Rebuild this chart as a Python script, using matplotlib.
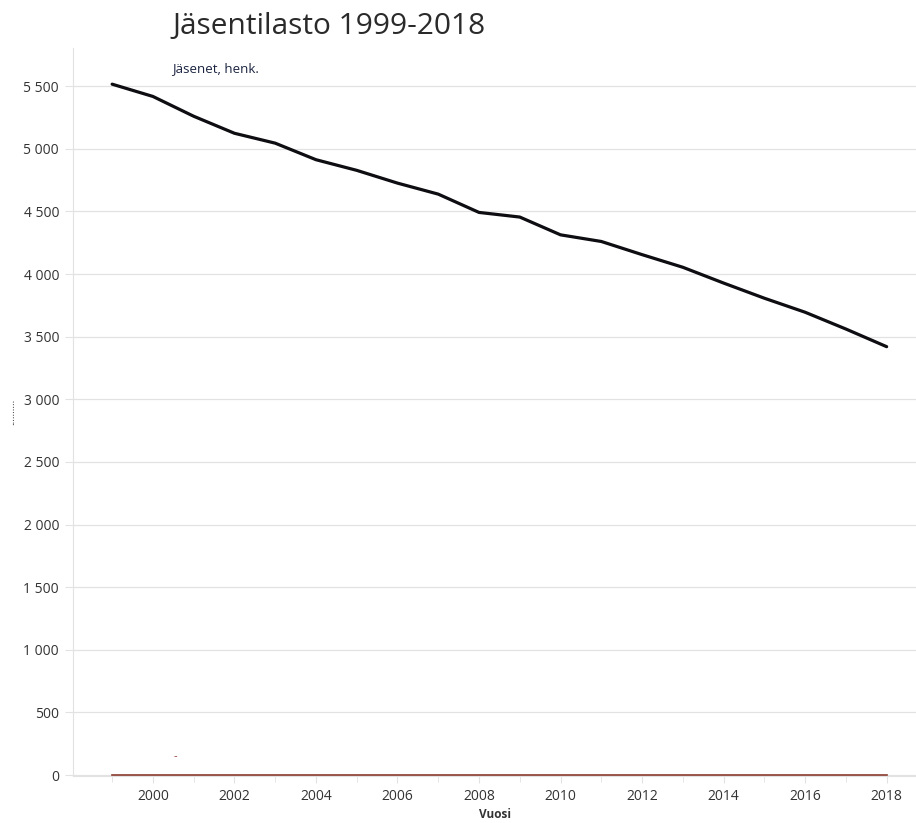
import matplotlib.pyplot as plt
from matplotlib.ticker import FuncFormatter, MultipleLocator

# Jäsentilasto 1999-2018
vuodet = list(range(1999, 2019))
jasenet = [5516, 5418, 5260, 5124, 5045, 4913, 4828, 4726, 4638, 4492,
           4455, 4313, 4260, 4155, 4054, 3928, 3807, 3695, 3561, 3420]
toinen = [0] * len(vuodet)

plt.rcParams['font.family'] = ['Open Sans', 'DejaVu Sans']

fig = plt.figure(figsize=(9.16, 8.23), dpi=100)
ax = fig.add_axes([0.0797, 0.0571, 0.9203, 0.8846])

ax.plot(vuodet, toinen, color='#8b3a2e', lw=1.2, zorder=3)
ax.plot(vuodet, jasenet, color='#0d0d12', lw=2.3, zorder=4, solid_capstyle='round')
ax.text(2000.55, 150, '-', color='#8b3a2e', fontsize=8, ha='center', va='center')

ax.set_xlim(1998.04, 2018.72)
ax.set_ylim(-8, 5805)
ax.xaxis.set_major_locator(MultipleLocator(2))
ax.xaxis.set_minor_locator(MultipleLocator(1))
ax.yaxis.set_major_locator(MultipleLocator(500))
ax.yaxis.set_major_formatter(FuncFormatter(lambda v, p: f'{int(v):,}'.replace(',', ' ')))

ax.grid(axis='y', color='#e2e2e2', lw=0.9)
ax.set_axisbelow(True)
for s in ['top', 'right']:
    ax.spines[s].set_visible(False)
for s in ['left', 'bottom']:
    ax.spines[s].set_color('#e2e2e2')
ax.tick_params(axis='y', length=6, color='#e2e2e2', labelsize=10, labelcolor='#333333', pad=4)
ax.tick_params(axis='x', which='major', length=5, color='#e2e2e2', labelsize=10, labelcolor='#333333', pad=4)
ax.tick_params(axis='x', which='minor', length=4, color='#e2e2e2')

ax.set_xlabel('Vuosi', fontsize=8.5, fontweight='bold', color='#333333', labelpad=3)
fig.text(0.013, 0.499, '..........', rotation=90, fontsize=7, color='#333333', ha='center', va='center')

fig.text(0.188, 0.968, 'Jäsentilasto 1999-2018', fontsize=21.5, color='#2a2a2a', ha='left', va='center')
fig.text(0.188, 0.917, 'Jäsenet, henk.', fontsize=9.5, color='#1a2340', ha='left', va='center')

fig.savefig('out.png', dpi=100)
